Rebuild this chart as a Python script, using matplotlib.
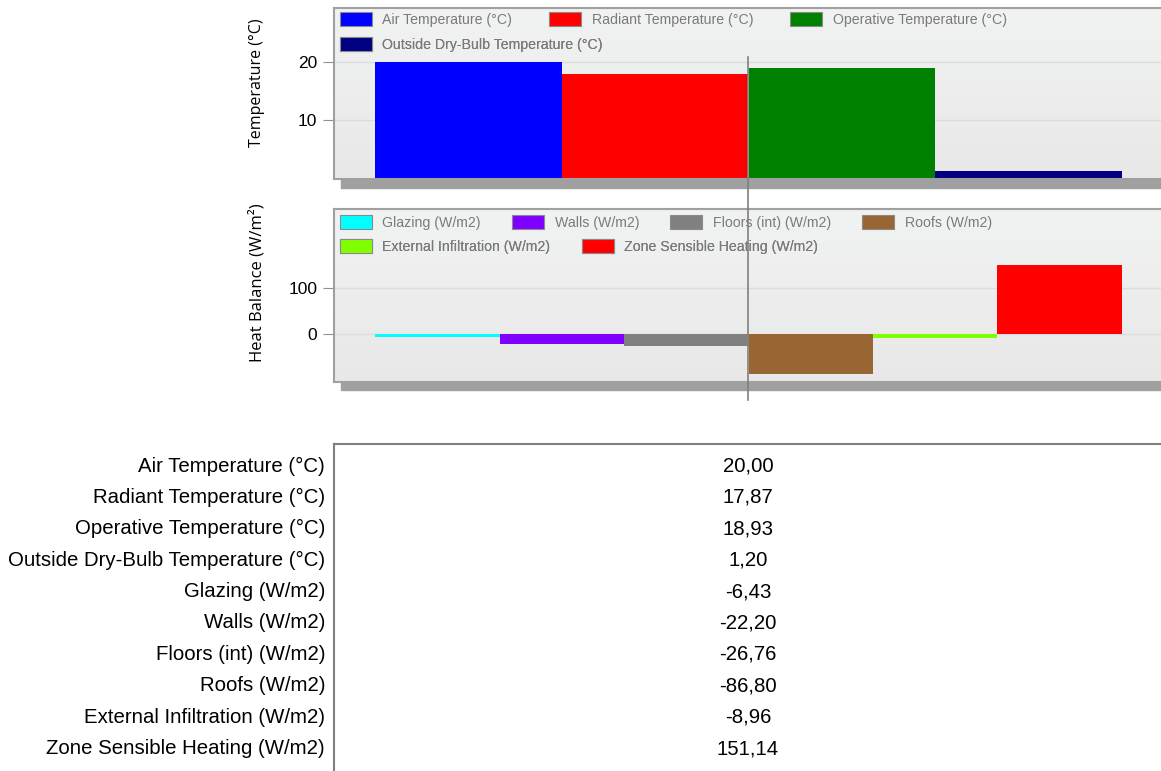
import numpy as np
import matplotlib
matplotlib.use("Agg")
import matplotlib.pyplot as plt
from matplotlib.patches import Rectangle, Patch
from matplotlib.lines import Line2D

plt.rcParams["font.family"] = ["Liberation Sans", "DejaVu Sans"]

# temperatures (°C)
temp_names = ["Air Temperature (°C)", "Radiant Temperature (°C)",
              "Operative Temperature (°C)", "Outside Dry-Bulb Temperature (°C)"]
temp_values = [20.00, 17.87, 18.93, 1.20]
temp_colors = ["#0000ff", "#ff0000", "#008000", "#000080"]

# heat balance (W/m2)
heat_names = ["Glazing (W/m2)", "Walls (W/m2)", "Floors (int) (W/m2)", "Roofs (W/m2)",
              "External Infiltration (W/m2)", "Zone Sensible Heating (W/m2)"]
heat_values = [-6.43, -22.20, -26.76, -86.80, -8.96, 151.14]
heat_colors = ["#00ffff", "#8000ff", "#808080", "#996633", "#80ff00", "#ff0000"]

W, H = 1161, 771
fig = plt.figure(figsize=(W / 100, H / 100), dpi=100)


def px_rect(x0, y0, x1, y1):
    """pixel box -> figure fraction [left, bottom, width, height]"""
    return [x0 / W, 1 - y1 / H, (x1 - x0) / W, (y1 - y0) / H]


def style_panel(ax, ticks):
    grad = np.linspace(0, 1, 100).reshape(-1, 1)
    ax.imshow(grad, extent=(0, 1, 0, 1), transform=ax.transAxes, aspect="auto",
              cmap=matplotlib.colors.LinearSegmentedColormap.from_list(
                  "bg", ["#f1f2f2", "#e8e8e8"]), zorder=0)
    for side in ["left", "top", "bottom"]:
        ax.spines[side].set_color("#a0a0a0")
        ax.spines[side].set_linewidth(1.5)
    ax.spines["right"].set_visible(False)
    ax.set_xticks([])
    ax.set_yticks(ticks)
    ax.tick_params(axis="y", length=8, color="#909090", labelsize=12.5, pad=4)
    for t in ticks:
        ax.axhline(t, color="#dcdcdc", lw=1, zorder=1)


def add_legend_row(ax, names, colors, x, y, spacing):
    handles = [Patch(facecolor=c, edgecolor="#8a8a8a", lw=0.8) for c in colors]
    leg = ax.legend(handles, names, loc="upper left", ncol=len(names),
                    bbox_to_anchor=(x / W, 1 - y / H), bbox_transform=fig.transFigure,
                    frameon=False, borderpad=0, borderaxespad=0, fontsize=10.2,
                    handlelength=2.25, handleheight=1.1, handletextpad=0.75,
                    columnspacing=spacing, labelcolor="#7a7a7a")
    ax.add_artist(leg)


# shadows under the two panels
for y0, y1 in [(179, 188), (382, 390)]:
    fig.add_artist(Rectangle((341 / W, 1 - y1 / H), (W - 341) / W, (y1 - y0) / H,
                             transform=fig.transFigure, color="#a0a0a0", zorder=0))

# temperature panel
ax1 = fig.add_axes(px_rect(334, 8, W + 2, 179))
style_panel(ax1, [10, 20])
ax1.bar(np.arange(len(temp_values)), temp_values, width=1.0, color=temp_colors, zorder=2)
ax1.set_xlim(-0.72, 3.72)
ax1.set_ylim(-0.2, 29.3)
add_legend_row(ax1, temp_names[:3], temp_colors[:3], 340, 12, 2.6)
add_legend_row(ax1, temp_names[3:], temp_colors[3:], 340, 37, 2.6)
fig.text(257 / W, 1 - 83 / H, "Temperature (°C)", rotation=90, ha="center", va="center",
         family="Open Sans", fontsize=11.5)

# heat balance panel
ax2 = fig.add_axes(px_rect(334, 209, W + 2, 382))
style_panel(ax2, [0, 100])
ax2.bar(np.arange(len(heat_values)), heat_values, width=1.0, color=heat_colors, zorder=2)
ax2.set_xlim(-0.83, 5.83)
ax2.set_ylim(-104, 272)
add_legend_row(ax2, heat_names[:4], heat_colors[:4], 340, 215, 2.2)
add_legend_row(ax2, heat_names[4:], heat_colors[4:], 340, 239, 2.2)
fig.text(257 / W, 1 - 283 / H, "Heat Balance (W/m²)", rotation=90, ha="center", va="center",
         family="Open Sans", fontsize=12)

# cursor line across both panels
fig.add_artist(Line2D([748 / W, 748 / W], [1 - 57 / H, 1 - 400 / H],
                      transform=fig.transFigure, color="#808080", lw=1.2, zorder=5))

# value table
fig.add_artist(Line2D([334 / W, 1], [1 - 444 / H, 1 - 444 / H],
                      transform=fig.transFigure, color="#808080", lw=1.5))
fig.add_artist(Line2D([334 / W, 334 / W], [1 - 444 / H, 0],
                      transform=fig.transFigure, color="#808080", lw=1.5))
row_names = temp_names + heat_names
row_values = temp_values + heat_values
for i, (name, val) in enumerate(zip(row_names, row_values)):
    y = 1 - (466 + i * 31.4) / H
    fig.text(325 / W, y, name, ha="right", va="center", fontsize=14.7)
    fig.text(748 / W, y, f"{val:.2f}".replace(".", ","), ha="center", va="center",
             fontsize=14.7)

fig.savefig("out.png", dpi=100)
